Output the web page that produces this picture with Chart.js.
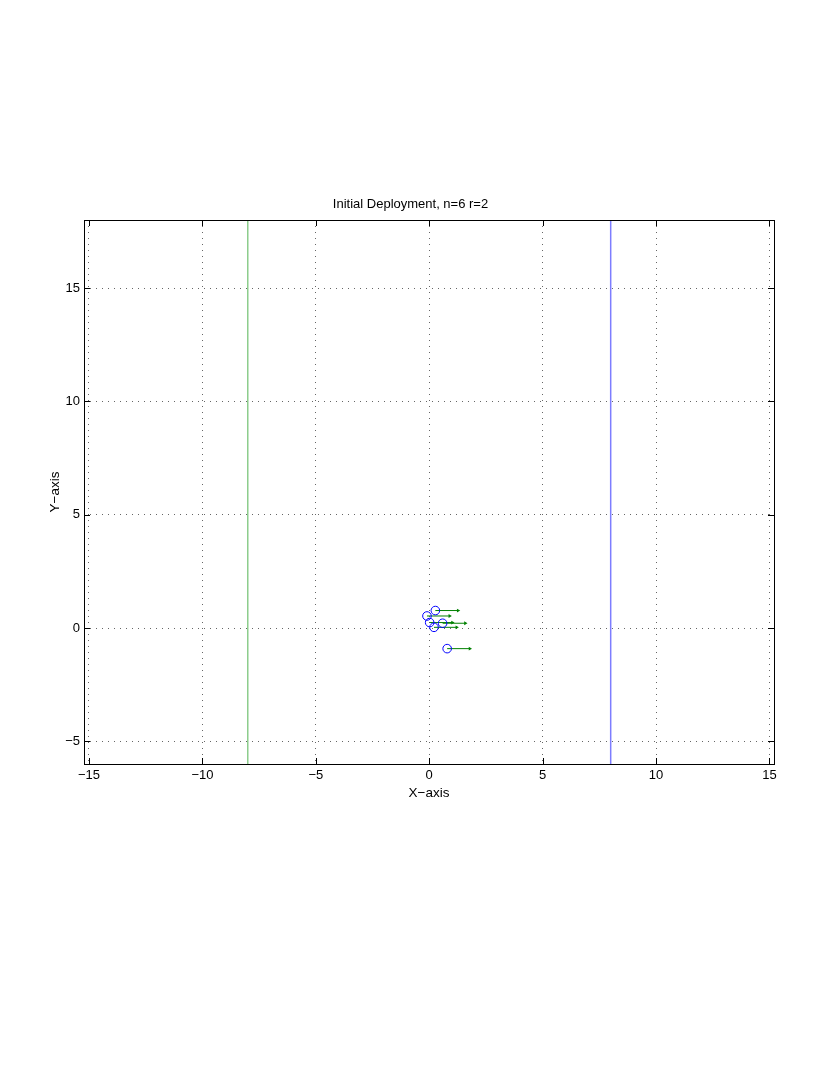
<!DOCTYPE html>
<html>
<head>
<meta charset="utf-8">
<script src="https://cdn.jsdelivr.net/npm/chart.js@4.4.1/dist/chart.umd.min.js"></script>
<style>
  html, body { margin: 0; padding: 0; background: #fff; }
  #wrap { position: absolute; left: 0; top: 0; width: 830px; height: 1075px; }
</style>
</head>
<body>
<div id="wrap"><canvas id="deployChart" width="830" height="1075"></canvas></div>
<script>
// node positions (circles)
const nodeX = [0.27, -0.10, 0.02, 0.59, 0.21, 0.79];
const nodeY = [0.77, 0.53, 0.24, 0.21, 0.03, -0.91];
// quiver components for each node
const arrowU = [1.0, 1.0, 1.0, 1.0, 1.0, 1.0];
const arrowV = [0, 0, 0, 0, 0, 0];
// boundary lines
const leftBoundX = -8;
const rightBoundX = 8;
// axes
const xTicks = [-15, -10, -5, 0, 5, 10, 15];
const yTicks = [-5, 0, 5, 10, 15];
const xLimits = [-15.22, 15.2];
const yLimits = [-6, 18];

const FONT = "'Liberation Sans', Arial, Helvetica, sans-serif";
const minusLabel = v => String(v).replace('-', '\u2212');

// inward tick marks + box, drawn from the scales
const boxTicks = {
    id: 'boxTicks',
    afterDraw(chart) {
        const { ctx, chartArea: a, scales } = chart;
        const len = 6;
        ctx.save();
        ctx.strokeStyle = '#000';
        ctx.lineWidth = 1;
        ctx.beginPath();
        scales.x.ticks.forEach(t => {
            const px = Math.round(scales.x.getPixelForValue(t.value)) + 0.5;
            ctx.moveTo(px, a.bottom); ctx.lineTo(px, a.bottom - len);
            ctx.moveTo(px, a.top); ctx.lineTo(px, a.top + len);
        });
        scales.y.ticks.forEach(t => {
            const py = Math.round(scales.y.getPixelForValue(t.value)) + 0.5;
            ctx.moveTo(a.left, py); ctx.lineTo(a.left + len, py);
            ctx.moveTo(a.right, py); ctx.lineTo(a.right - len, py);
        });
        ctx.stroke();
        ctx.strokeRect(Math.round(a.left) + 0.5, Math.round(a.top) + 0.5,
            Math.round(a.right - a.left), Math.round(a.bottom - a.top));
        ctx.restore();
    }
};

const arrowSets = nodeX.map((x, i) => ({
    type: 'line',
    data: [{ x: x, y: nodeY[i] }, { x: x + arrowU[i], y: nodeY[i] + arrowV[i] }],
    borderColor: 'rgb(0,128,0)',
    backgroundColor: 'rgb(0,128,0)',
    borderWidth: 1,
    pointRadius: [0, 2.2],
    pointStyle: 'triangle',
    rotation: 90,
    pointBorderWidth: 0,
    order: 2
}));

new Chart(document.getElementById('deployChart'), {
    type: 'scatter',
    data: {
        datasets: [
            {
                type: 'line',
                data: [{ x: leftBoundX, y: yLimits[0] }, { x: leftBoundX, y: yLimits[1] }],
                borderColor: 'rgb(140,205,140)',
                borderWidth: 1.5,
                pointRadius: 0,
                order: 4
            },
            {
                type: 'line',
                data: [{ x: rightBoundX, y: yLimits[0] }, { x: rightBoundX, y: yLimits[1] }],
                borderColor: 'rgb(125,125,255)',
                borderWidth: 1.5,
                pointRadius: 0,
                order: 4
            },
            ...arrowSets,
            {
                data: nodeX.map((x, i) => ({ x: x, y: nodeY[i] })),
                pointStyle: 'circle',
                pointRadius: 4.3,
                borderColor: 'rgb(0,0,255)',
                backgroundColor: 'rgba(0,0,0,0)',
                borderWidth: 1,
                order: 1
            }
        ]
    },
    options: {
        responsive: false,
        animation: false,
        events: [],
        layout: { padding: { left: 47, right: 56, top: 0, bottom: 274 } },
        plugins: {
            legend: { display: false },
            tooltip: { enabled: false },
            title: {
                display: true,
                text: 'Initial Deployment, n=6 r=2',
                color: '#000',
                font: { family: FONT, size: 13, weight: 'normal', lineHeight: 1.2 },
                padding: { top: 196.4, bottom: 8 }
            }
        },
        scales: {
            x: {
                type: 'linear',
                min: xLimits[0],
                max: xLimits[1],
                afterBuildTicks: s => { s.ticks = xTicks.map(v => ({ value: v })); },
                afterFit: s => { s.height = 37; },
                grid: { color: 'rgba(0,0,0,0.6)', lineWidth: 1, drawTicks: false },
                border: { display: false, dash: [1, 5] },
                ticks: { color: '#000', padding: 4, maxRotation: 0, font: { family: FONT, size: 13 }, callback: minusLabel },
                title: { display: true, text: 'X\u2212axis', color: '#000', padding: 0, font: { family: FONT, size: 13.5, lineHeight: 1.2 } }
            },
            y: {
                type: 'linear',
                min: yLimits[0],
                max: yLimits[1],
                afterBuildTicks: s => { s.ticks = yTicks.map(v => ({ value: v })); },
                afterFit: s => { s.width = 37; },
                grid: { color: 'rgba(0,0,0,0.6)', lineWidth: 1, drawTicks: false },
                border: { display: false, dash: [1, 5] },
                ticks: { color: '#000', padding: 4, font: { family: FONT, size: 13 }, callback: minusLabel },
                title: { display: true, text: 'Y\u2212axis', color: '#000', padding: 0, font: { family: FONT, size: 13.5, lineHeight: 1.2 } }
            }
        }
    },
    plugins: [boxTicks]
});
</script>
</body>
</html>
